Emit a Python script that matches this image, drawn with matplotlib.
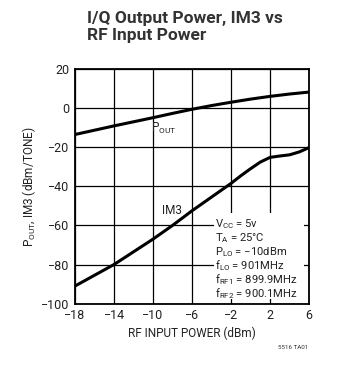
import numpy as np
import matplotlib.pyplot as plt
from matplotlib.patches import Rectangle

# data
rf_in = [-18, -16, -14, -12, -10, -8, -6, -4, -2, -1, 0, 1, 2, 3, 4, 5, 6]
p_out = [-13.5, -11.3, -9.1, -7.0, -4.9, -2.7, -0.6, 1.3, 3.0, 3.8, 4.6, 5.3, 6.0, 6.6, 7.2, 7.7, 8.2]
im3 = [-91, -85.5, -80, -73.5, -67, -60, -52.5, -45.5, -38.5, -34.6, -31, -27.6, -25.2, -24.5, -23.9, -22.4, -20.2]

x_ticks = [-18, -14, -10, -6, -2, 2, 6]
y_ticks = [-100, -80, -60, -40, -20, 0, 20]

fam = ['Roboto', 'DejaVu Sans']
plt.rcParams['font.family'] = fam
plt.rcParams['mathtext.fontset'] = 'custom'
plt.rcParams['mathtext.rm'] = 'Roboto'
plt.rcParams['mathtext.it'] = 'Roboto'
plt.rcParams['axes.unicode_minus'] = True

fig = plt.figure(figsize=(3.59, 3.68), dpi=100)
ax = fig.add_axes([0.209, 0.175, 0.652, 0.6375])

ax.plot(rf_in, p_out, color='black', lw=2.2, zorder=3)
ax.plot(rf_in, im3, color='black', lw=2.2, zorder=3)

ax.set_xlim(-18, 6)
ax.set_ylim(-100, 20)
ax.set_xticks(x_ticks)
ax.set_yticks(y_ticks)
ax.set_xticklabels([str(v).replace('-', '\u2212') for v in x_ticks])
ax.set_yticklabels([str(v).replace('-', '\u2212') for v in y_ticks])
ax.grid(True, color='black', lw=0.9, zorder=1)
ax.tick_params(length=0, labelsize=9, pad=4, colors='#222222')
for s in ax.spines.values():
    s.set_linewidth(1.3)
    s.set_zorder(5)

# white box under conditions text
ax.add_patch(Rectangle((-3.75, -97.6), 9.25, 43.9, facecolor='white',
                       edgecolor='none', zorder=2))

cond_lines = [r'V$_{\rm CC}$ = 5v',
              r'T$_{\rm A}$ = 25°C',
              r'P$_{\rm LO}$ = −10dBm',
              r'f$_{\rm LO}$ = 901MHz',
              r'f$_{\rm RF1}$ = 899.9MHz',
              r'f$_{\rm RF2}$ = 900.1MHz']
for i, t in enumerate(cond_lines):
    ax.text(-3.6, -59.5 - i * 7.1, t, fontsize=8.1, va='center', ha='left',
            color='#222222', zorder=4)

ax.text(-10.2, -10.6, r'P$_{\rm OUT}$', fontsize=8.5, va='center', color='#222222', zorder=4)
ax.text(-9.1, -52.6, 'IM3', fontsize=8.5, va='center', color='#222222', zorder=4)

ax.set_xlabel('RF INPUT POWER (dBm)', fontsize=8.5, color='#222222', labelpad=3)
ax.set_ylabel(r'P$_{\rm OUT}$, IM3 (dBm/TONE)', fontsize=8.5, color='#222222', labelpad=2)

fig.text(87 / 359, 1 - 11 / 368, 'I/Q Output Power, IM3 vs\nRF Input Power',
         fontsize=12.5, fontweight='bold', va='top', ha='left', color='#333333',
         linespacing=1.15)
fig.text(308 / 359, 1 - 349 / 368, '5516 TA01', fontsize=4.5, ha='right', color='#333333')

fig.savefig('out.png', dpi=100)
